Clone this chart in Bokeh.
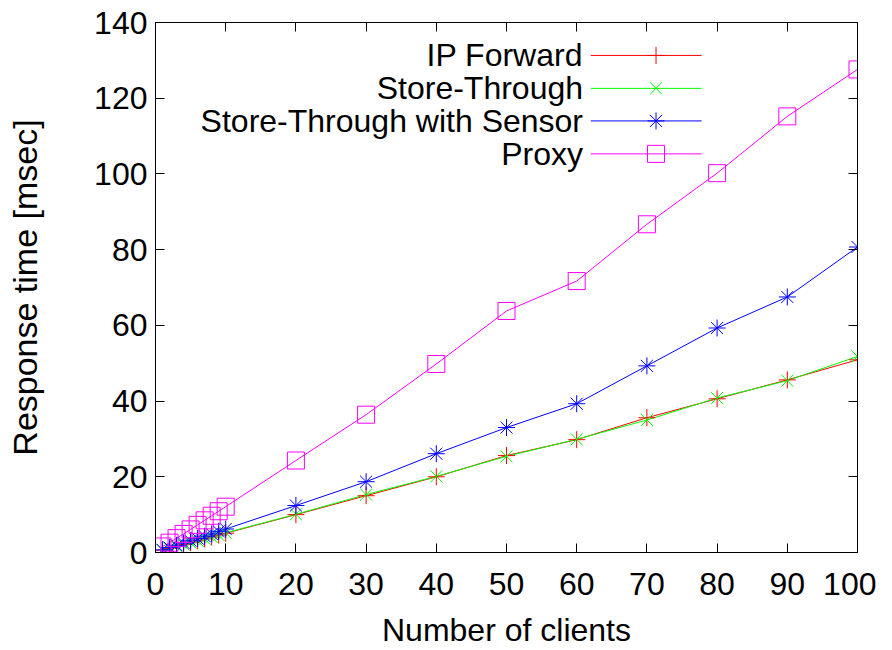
from bokeh.plotting import figure
from bokeh.models import LinearAxis, Range1d, FixedTicker, Label
from bokeh.embed import file_html
from bokeh.resources import INLINE

clients = [1, 2, 3, 4, 5, 6, 7, 8, 9, 10, 20, 30, 40, 50, 60, 70, 80, 90, 100]
ip_forward = [0.6, 1.1, 1.6, 2.1, 2.6, 3.1, 3.6, 4.1, 4.6, 5.1,
              10.0, 15.0, 20.0, 25.6, 29.8, 35.6, 40.6, 45.6, 50.9]
store_through = [0.6, 1.1, 1.6, 2.1, 2.6, 3.1, 3.6, 4.1, 4.6, 5.2,
                 10.1, 15.3, 20.1, 25.4, 29.9, 35.0, 40.8, 45.4, 51.8]
store_sensor = [0.7, 1.3, 1.9, 2.5, 3.1, 3.7, 4.3, 4.9, 5.6, 6.2,
                12.4, 18.7, 26.1, 33.0, 39.3, 49.3, 59.3, 67.5, 80.7]
proxy = [1.6, 2.6, 3.8, 4.9, 6.1, 7.3, 8.5, 9.7, 10.9, 12.1,
         24.3, 36.4, 49.8, 63.8, 71.7, 86.7, 100.2, 115.2, 127.6]

series_names = ["IP Forward", "Store-Through", "Store-Through with Sensor", "Proxy"]
series_values = [ip_forward, store_through, store_sensor, proxy]
colors = ["#ff0000", "#00ff00", "#0000ff", "#ff00ff"]
markers = ["cross", "x", "asterisk", "square"]

x_ticks = [0, 10, 20, 30, 40, 50, 60, 70, 80, 90, 100]
y_ticks = [0, 20, 40, 60, 80, 100, 120, 140]

FONT = "Liberation Sans"
FS = "32px"

p = figure(width=876, height=650, output_backend="svg", toolbar_location=None,
           x_range=Range1d(0, 100), y_range=Range1d(0, 140),
           min_border_left=155, min_border_right=19, min_border_top=22, min_border_bottom=97)
p.xgrid.visible = False
p.ygrid.visible = False
p.outline_line_color = "black"
p.outline_line_width = 1
p.background_fill_color = "white"
p.border_fill_color = "white"

for ax, ticks in ((p.xaxis[0], x_ticks), (p.yaxis[0], y_ticks)):
    ax.ticker = FixedTicker(ticks=ticks)
    ax.minor_tick_line_color = None
    ax.major_tick_in = 9
    ax.major_tick_out = 0
    ax.major_tick_line_color = "black"
    ax.axis_line_color = "black"
    ax.major_label_text_font = FONT
    ax.major_label_text_font_size = FS
    ax.major_label_text_color = "black"
    ax.axis_label_text_font = FONT
    ax.axis_label_text_font_size = FS
    ax.axis_label_text_font_style = "normal"
    ax.axis_label_text_color = "black"

p.xaxis.axis_label = "Number of clients"
p.yaxis.axis_label = "Response time [msec]"
p.yaxis.axis_label_text_font_size = "34px"
p.xaxis.major_label_standoff = 20
p.xaxis.axis_label_standoff = 14
p.yaxis.major_label_standoff = 8
p.yaxis.axis_label_standoff = 47

for loc, ticks in (("above", x_ticks), ("right", y_ticks)):
    ax = LinearAxis(ticker=FixedTicker(ticks=ticks))
    ax.minor_tick_line_color = None
    ax.major_tick_in = 9
    ax.major_tick_out = 0
    ax.major_label_text_font_size = "0px"
    ax.major_label_text_color = None
    ax.major_label_standoff = 0
    p.add_layout(ax, loc)

for vals, col in zip(series_values, colors):
    p.line(clients, vals, line_color=col, line_width=1)
for vals, col, mk in zip(series_values, colors, markers):
    p.scatter(clients, vals, marker=mk, size=17, line_color=col, fill_color=None, line_width=1)

# key (gnuplot style: text right-aligned, then sample)
key_text_x = 60.9
key_line_x0, key_line_x1 = 62.0, 77.8
key_mark_x = 71.3
key_rows = [131.3, 122.6, 114.0, 105.3]
for name, col, mk, yk in zip(series_names, colors, markers, key_rows):
    p.add_layout(Label(x=key_text_x, y=yk, text=name, text_align="right", text_baseline="middle",
                       text_font=FONT, text_font_size=FS, text_color="black"))
    p.segment([key_line_x0], [yk], [key_line_x1], [yk], line_color=col, line_width=1)
    p.scatter([key_mark_x], [yk], marker=mk, size=17, line_color=col, fill_color=None, line_width=1)

open("out.html", "w").write(file_html(p, INLINE))
